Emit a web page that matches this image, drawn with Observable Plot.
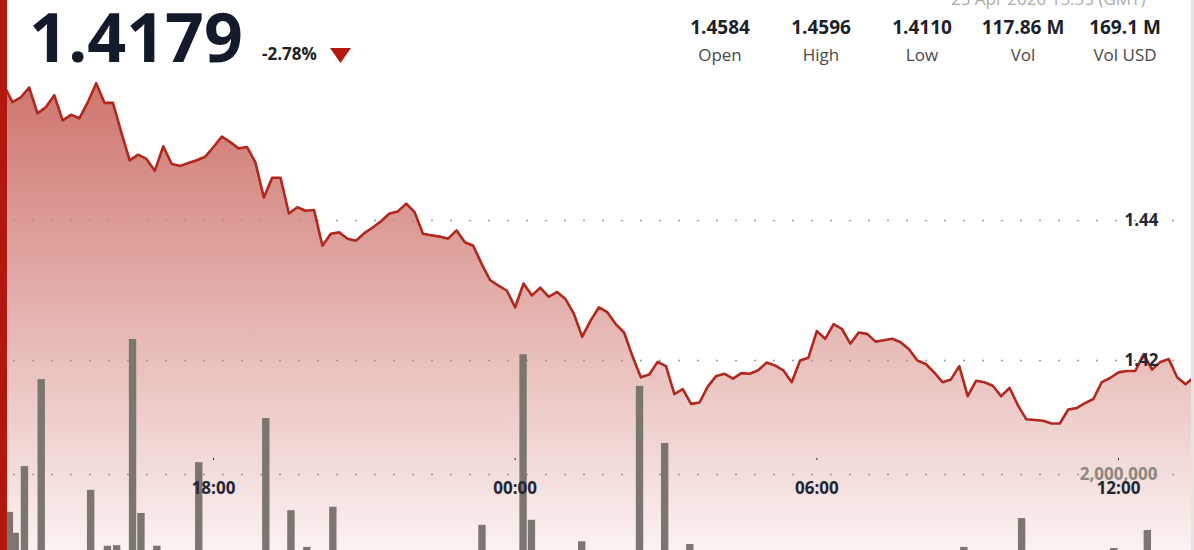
<!DOCTYPE html>
<html>
<head>
<meta charset="utf-8">
<script src="https://cdn.jsdelivr.net/npm/d3@7"></script>
<script src="https://cdn.jsdelivr.net/npm/@observablehq/plot@0.6"></script>
<style>
  html, body { margin: 0; padding: 0; background: #fff; }
  #wrap { position: relative; width: 1194px; height: 550px; overflow: hidden; font-family: "Open Sans", sans-serif; background: #fff; }
  #wrap svg { position: absolute; left: 0; top: 0; }
  .abs { position: absolute; line-height: 1; white-space: nowrap; }
  .stat { position: absolute; width: 110px; text-align: center; line-height: 1; }
</style>
</head>
<body>
<div id="wrap"></div>
<script>
// ---------------- data ----------------
const priceStart = "2020-04-24T13:50:00Z";   // first sample, 10-minute steps
const priceStepMinutes = 10;
const prices = [
  1.4593, 1.4569, 1.4576, 1.4590, 1.4553, 1.4562, 1.4579, 1.4543, 1.4551, 1.4546,
  1.4569, 1.4596, 1.4568, 1.4568, 1.4526, 1.4486, 1.4494, 1.4488, 1.4471, 1.4506,
  1.4481, 1.4478, 1.4482, 1.4486, 1.4491, 1.4505, 1.4520, 1.4512, 1.4503, 1.4505,
  1.4483, 1.4433, 1.4461, 1.4461, 1.4410, 1.4419, 1.4414, 1.4415, 1.4364, 1.4381,
  1.4383, 1.4374, 1.4371, 1.4382, 1.4390, 1.4399, 1.4410, 1.4413, 1.4424, 1.4412,
  1.4381, 1.4379, 1.4377, 1.4374, 1.4386, 1.4369, 1.4364, 1.4338, 1.4315, 1.4307,
  1.4300, 1.4276, 1.4310, 1.4293, 1.4304, 1.4291, 1.4298, 1.4288, 1.4267, 1.4234,
  1.4257, 1.4276, 1.4269, 1.4252, 1.4240, 1.4206, 1.4176, 1.4180, 1.4198, 1.4192,
  1.4152, 1.4159, 1.4138, 1.4140, 1.4163, 1.4178, 1.4181, 1.4174, 1.4182, 1.4181,
  1.4186, 1.4197, 1.4193, 1.4186, 1.4169, 1.4200, 1.4204, 1.4242, 1.4231, 1.4252,
  1.4245, 1.4224, 1.4240, 1.4238, 1.4227, 1.4229, 1.4231, 1.4226, 1.4216, 1.4200,
  1.4195, 1.4183, 1.4169, 1.4173, 1.4192, 1.4149, 1.4171, 1.4169, 1.4164, 1.4149,
  1.4161, 1.4136, 1.4116, 1.4115, 1.4114, 1.4110, 1.4110, 1.4130, 1.4132, 1.4139,
  1.4145, 1.4169, 1.4175, 1.4183, 1.4185, 1.4185, 1.4209, 1.4187, 1.4198, 1.4202,
  1.4176, 1.4166, 1.4176, 1.4179
];

const volumeTimes = [
  "2020-04-24T13:57Z", "2020-04-24T14:04Z", "2020-04-24T14:15Z", "2020-04-24T14:35Z",
  "2020-04-24T15:34Z", "2020-04-24T15:54Z", "2020-04-24T16:05Z", "2020-04-24T16:24Z",
  "2020-04-24T16:34Z", "2020-04-24T16:53Z", "2020-04-24T17:43Z", "2020-04-24T19:03Z",
  "2020-04-24T19:33Z", "2020-04-24T19:52Z", "2020-04-24T20:23Z", "2020-04-24T23:21Z",
  "2020-04-25T00:10Z", "2020-04-25T00:20Z", "2020-04-25T01:20Z", "2020-04-25T02:29Z",
  "2020-04-25T02:59Z", "2020-04-25T03:29Z", "2020-04-25T08:56Z", "2020-04-25T10:05Z",
  "2020-04-25T11:55Z", "2020-04-25T12:35Z"
];
const volumes = [
  1330000, 960000, 2140000, 3680000, 1720000, 730000, 740000, 4390000,
  1310000, 730000, 2210000, 2990000, 1360000, 710000, 1420000, 1100000,
  4120000, 1190000, 810000, 3560000, 2550000, 760000, 710000, 1220000,
  690000, 1010000
];

const priceTicks = [1.42, 1.44];
const volumeTicks = [2000000];
const timeTicks = ["2020-04-24T18:00Z", "2020-04-25T00:00Z", "2020-04-25T06:00Z", "2020-04-25T12:00Z"];
const timeTickLabels = ["18:00", "00:00", "06:00", "12:00"];

const headline = { price: "1.4179", change: "-2.78%", stamp: "25 Apr 2020 13:35 (GMT)" };
const statLabels = ["Open", "High", "Low", "Vol", "Vol USD"];
const statValues = ["1.4584", "1.4596", "1.4110", "117.86 M", "169.1 M"];

// ---------------- tables ----------------
const t0 = new Date(priceStart);
const priceData = prices.map((p, i) => ({ t: new Date(+t0 + i * priceStepMinutes * 60000), p }));
const volData = volumeTimes.map((s, i) => ({ t: new Date(s), v: volumes[i] }));
const tickDates = timeTicks.map(s => new Date(s));

// ---------------- scales ----------------
const W = 1194, H = 550;
const xScale = { type: "utc", domain: [tickDates[0], tickDates[3]], range: [213, 1118] };
const yPrice = { domain: [1.42, 1.44], range: [360, 220] };
const yVol = { domain: [0, 2000000], range: [587, 474] };
const baseStyle = { background: "transparent", fontFamily: "'Open Sans', sans-serif", overflow: "hidden" };
const gridOpts = { stroke: "#9b9b9b", strokeWidth: 1.7, strokeDasharray: "2 17", strokeDashoffset: -13 };

const wrap = document.getElementById("wrap");

// Layer 1: price area + price grid
const areaPlot = Plot.plot({
  width: W, height: H, margin: 0,
  x: { ...xScale, axis: null },
  y: { ...yPrice, axis: null },
  style: baseStyle,
  marks: [
    Plot.areaY(priceData, { x: "t", y1: 1.38, y2: "p", fill: "url(#priceGrad)" }),
    Plot.ruleY(priceTicks, gridOpts)
  ]
});
const ns = "http://www.w3.org/2000/svg";
const defs = document.createElementNS(ns, "defs");
defs.innerHTML = `<linearGradient id="priceGrad" gradientUnits="userSpaceOnUse" x1="0" y1="80" x2="0" y2="550">
  <stop offset="0" stop-color="#b3261b" stop-opacity="0.64"/>
  <stop offset="1" stop-color="#b3261b" stop-opacity="0.06"/>
</linearGradient>`;
areaPlot.insertBefore(defs, areaPlot.firstChild);
wrap.appendChild(areaPlot);

// Layer 2: volume bars + volume grid
const halfBar = 4.4 * 60000;
const volPlot = Plot.plot({
  width: W, height: H, margin: 0,
  x: { ...xScale, axis: null },
  y: { ...yVol, axis: null },
  style: baseStyle,
  marks: [
    Plot.ruleY(volumeTicks, gridOpts),
    Plot.rectY(volData, { x1: d => new Date(+d.t - halfBar), x2: d => new Date(+d.t + halfBar), y1: 0, y2: "v", fill: "#7b766f" }),
    Plot.text(volumeTicks, { y: d => d, text: d => d3.format(",")(d), frameAnchor: "right", textAnchor: "end", dx: -37, fill: "#8d8781", fontSize: 17, fontWeight: 700 })
  ]
});
wrap.appendChild(volPlot);

// Layer 3: price line, price labels, time axis
const linePlot = Plot.plot({
  width: W, height: H, marginTop: 0, marginLeft: 0, marginRight: 0, marginBottom: 92,
  x: { ...xScale, label: null },
  y: { ...yPrice, axis: null },
  style: baseStyle,
  marks: [
    Plot.lineY(priceData, { x: "t", y: "p", stroke: "#b0281e", strokeWidth: 2.6 }),
    Plot.axisX(tickDates, { label: null, tickSize: 2, tickPadding: 21, tickFormat: (d, i) => timeTickLabels[i], fontSize: 17, fontWeight: 700, color: "#222733" }),
    Plot.text(priceTicks, { y: d => d, text: d => d.toFixed(2), frameAnchor: "right", textAnchor: "end", dx: -36, fill: "#222733", fontSize: 17, fontWeight: 700 })
  ]
});
wrap.appendChild(linePlot);

// ---------------- header & frame decorations ----------------
function addDiv(cls, css, text) {
  const d = document.createElement("div");
  d.className = cls;
  d.style.cssText = css;
  if (text != null) d.textContent = text;
  wrap.appendChild(d);
  return d;
}
addDiv("abs", "left:0;top:0;width:7px;height:550px;background:#b1170c;");
addDiv("abs", "left:1191px;top:0;width:3px;height:550px;background:#e4e4e4;");
addDiv("abs", "left:951px;top:-10px;font-size:17px;color:#aaaaaa;", headline.stamp);
addDiv("abs", "left:29px;top:2px;font-size:68px;font-weight:700;color:#131b2b;", headline.price);
addDiv("abs", "left:262px;top:45px;font-size:17px;font-weight:700;color:#222;", headline.change);
addDiv("abs", "left:330px;top:48px;width:21px;height:15px;background:#b4180d;clip-path:polygon(0 0,100% 0,50% 100%);");
const centers = [720, 821, 922, 1023, 1125];
statValues.forEach((v, i) => {
  addDiv("stat", `left:${centers[i] - 55}px;top:18px;font-size:19px;font-weight:700;color:#1b1f2a;`, v);
  addDiv("stat", `left:${centers[i] - 55}px;top:46px;font-size:17px;color:#4a4a4a;`, statLabels[i]);
});
</script>
</body>
</html>
